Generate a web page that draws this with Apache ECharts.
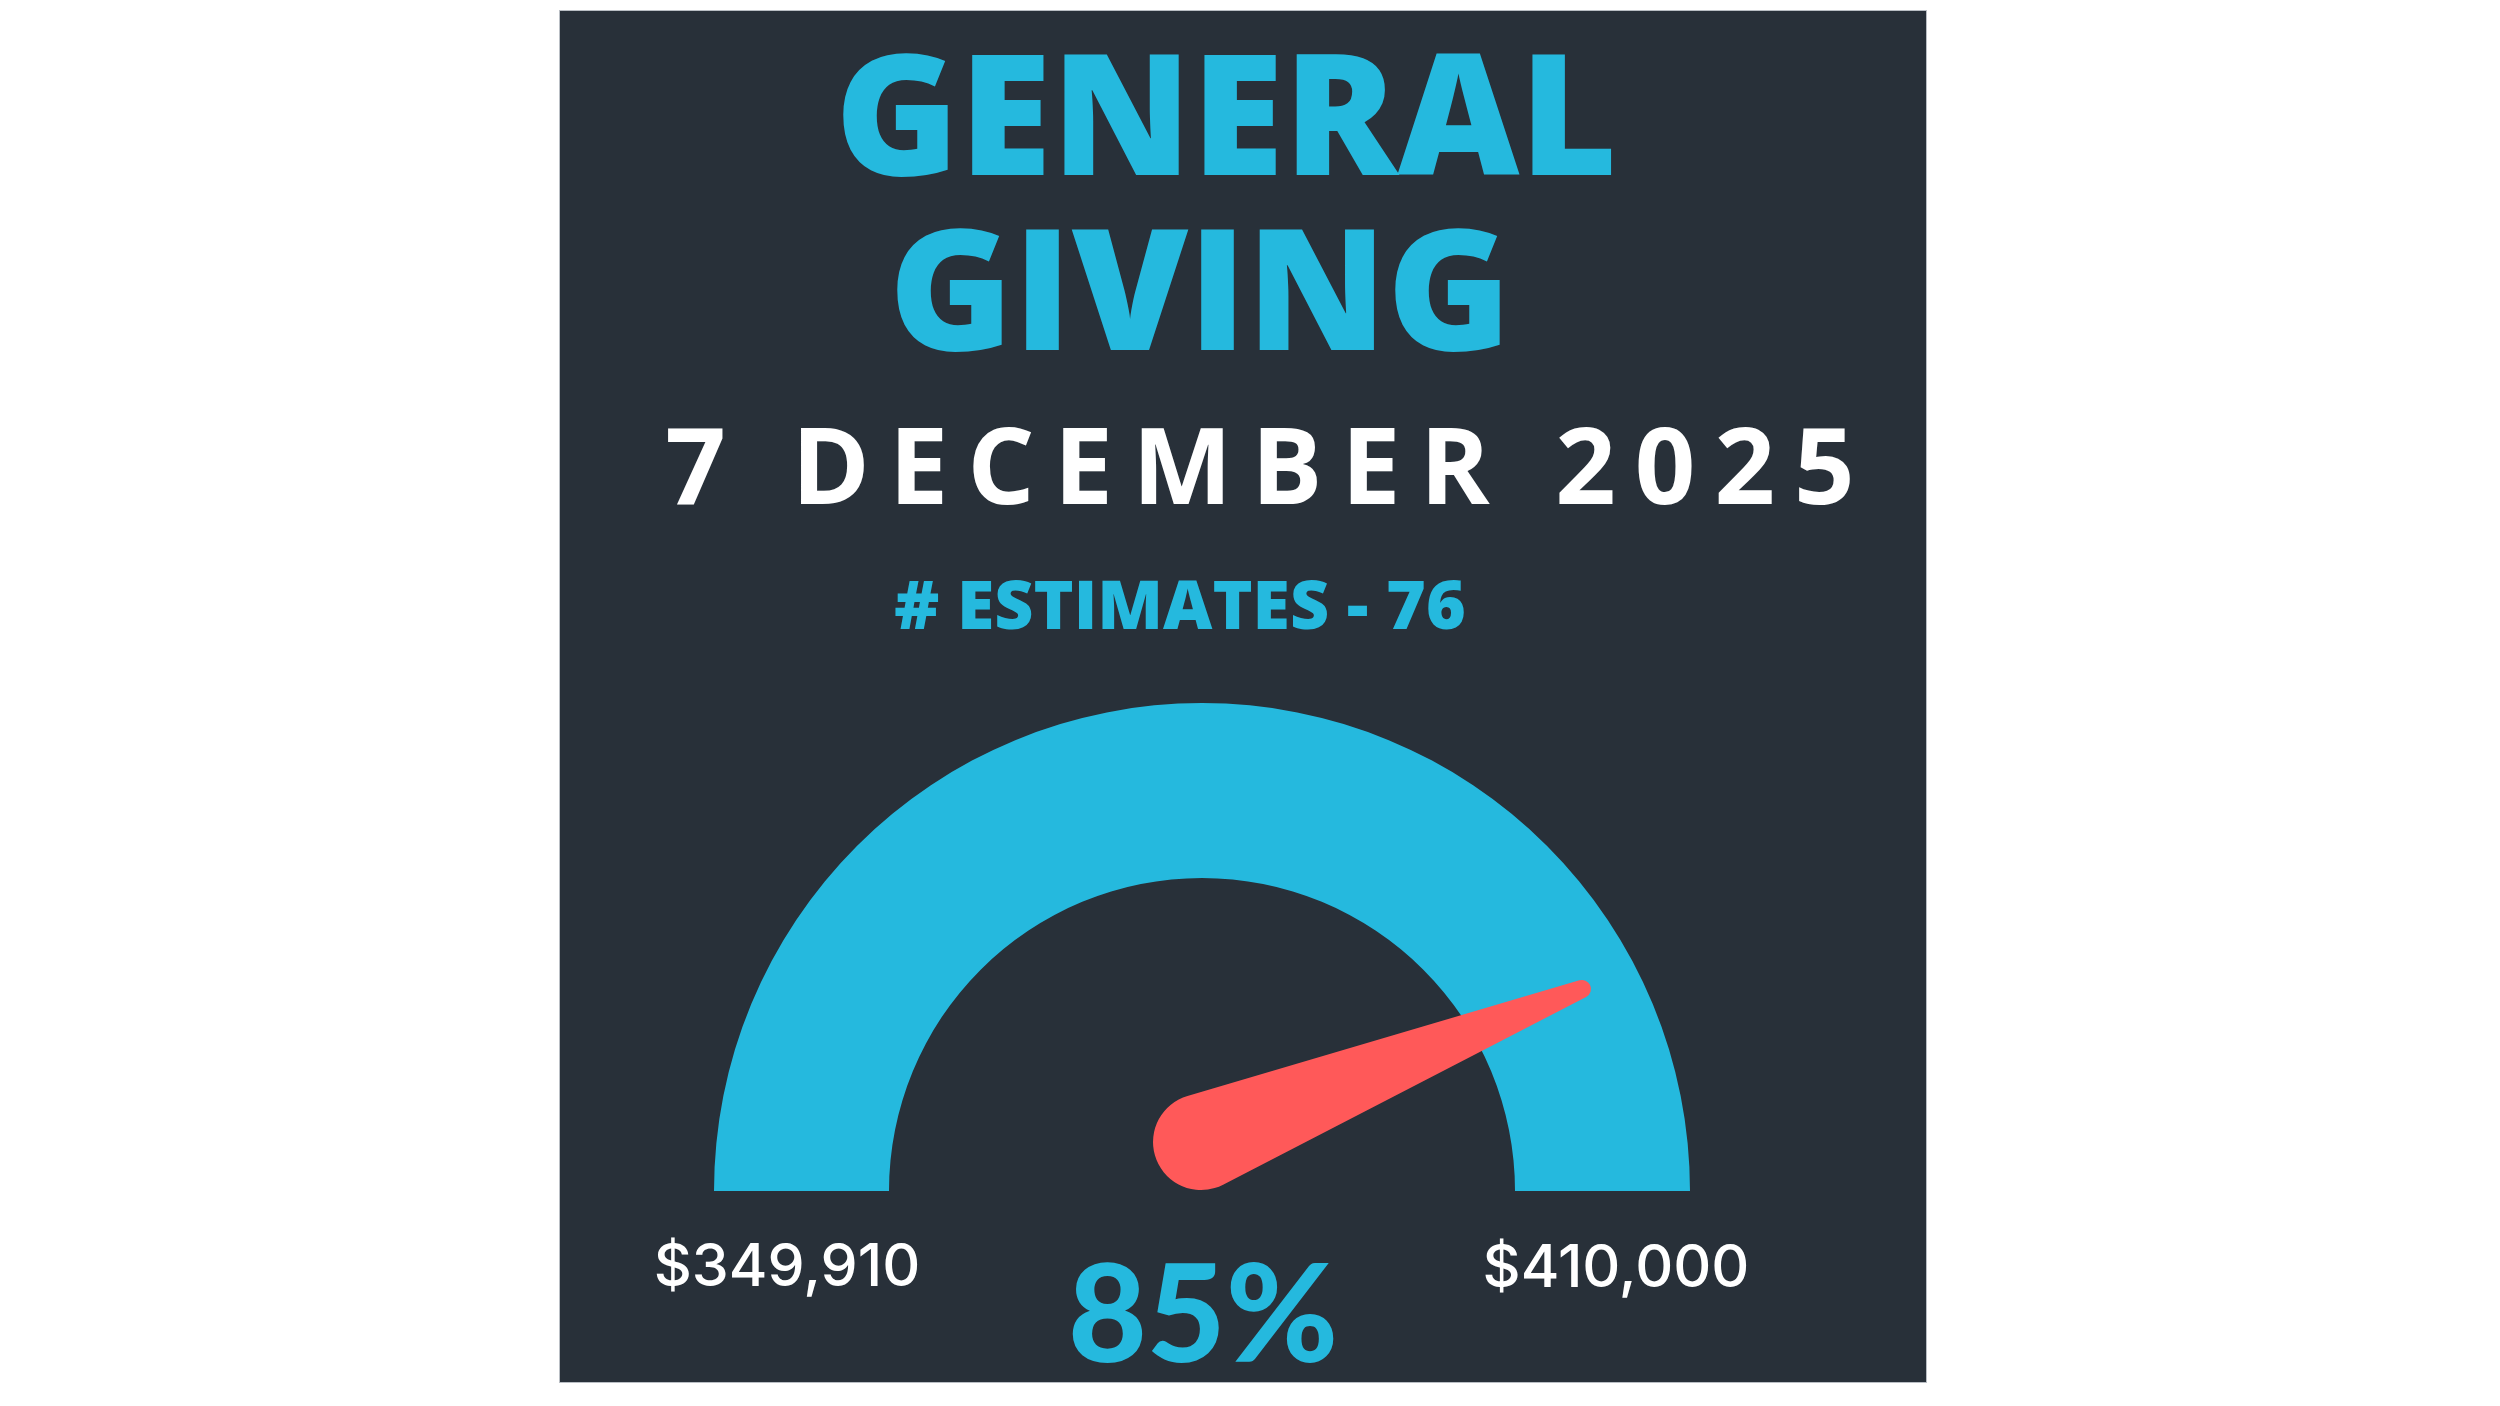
<!DOCTYPE html>
<html>
<head>
<meta charset="utf-8">
<script src="https://cdn.jsdelivr.net/npm/echarts@6/dist/echarts.min.js"></script>
<style>
html, body { margin: 0; padding: 0; background: #ffffff; width: 2500px; height: 1406px; overflow: hidden; }
#chart { position: absolute; left: 560px; top: 11px; width: 1366px; height: 1371px; box-shadow: 0 0 0 1px #b9bec4; }
</style>
</head>
<body>
<div id="chart"></div>
<script>
// ---- data ----
const headingLines = ['GENERAL', 'GIVING'];
const dateLabel = ['7 DECEMBER 2025'];
const estimateLabel = ['# ESTIMATES - 76'];
const amountRaised = [349910];
const givingGoal = [410000];
const gaugeRange = [0, 410000];

// ---- styling ----
const CYAN = '#25B9DE';
const RED = '#FF5959';
const BG = '#283039';

function money(v) { return '$' + v.toLocaleString('en-US'); }
function spaced(str) {
  const chars = Array.from(str);
  return chars.map((c, i) => '{' + (i < chars.length - 1 ? 's' : 'e') + '|' + c + '}').join('');
}
const dateFont = { fontFamily: 'Open Sans', fontWeight: 700, fontSize: 106, color: '#ffffff' };
const moneyFont = { fontFamily: 'Inter', fontWeight: 500, fontSize: 59, color: '#ffffff' };

const needlePath = 'path://M 3.69 -21.71 L -3.2 -430.35 A 9 9 0 0 0 -21.07 -431.75 L -91.58 -29.18 A 48 48 0 1 0 3.69 -21.71 Z';

const chart = echarts.init(document.getElementById('chart'), null, { renderer: 'canvas' });
chart.setOption({
  backgroundColor: BG,
  animation: false,
  title: [
    { text: headingLines[0], left: 666, top: 116, padding: 0, textAlign: 'center', textVerticalAlign: 'middle',
      textStyle: { fontFamily: 'Open Sans', fontWeight: 800, fontSize: 168, color: CYAN } },
    { text: headingLines[1], left: 640, top: 291, padding: 0, textAlign: 'center', textVerticalAlign: 'middle',
      textStyle: { fontFamily: 'Open Sans', fontWeight: 800, fontSize: 168, color: CYAN } },
    { text: spaced(dateLabel[0]), left: 700, top: 463, padding: 0, textAlign: 'center', textVerticalAlign: 'middle',
      textStyle: Object.assign({}, dateFont, {
        rich: {
          s: Object.assign({}, dateFont, { padding: [0, 19, 0, 0] }),
          e: Object.assign({}, dateFont)
        }
      }) },
    { text: estimateLabel[0], left: 620, top: 599, padding: 0, textAlign: 'center', textVerticalAlign: 'middle',
      textStyle: { fontFamily: 'Open Sans', fontWeight: 800, fontSize: 68, color: CYAN } },
    { text: money(amountRaised[0]), left: 227, top: 1257, padding: 0, textAlign: 'center', textVerticalAlign: 'middle',
      textStyle: moneyFont },
    { text: money(givingGoal[0]), left: 1056, top: 1258, padding: 0, textAlign: 'center', textVerticalAlign: 'middle',
      textStyle: moneyFont }
  ],
  series: [{
    type: 'gauge',
    center: [642, 1180],
    radius: 488,
    startAngle: 180,
    endAngle: 0,
    min: gaugeRange[0],
    max: gaugeRange[1],
    axisLine: { lineStyle: { width: 175, color: [[1, CYAN]] } },
    progress: { show: false },
    splitLine: { show: false },
    axisTick: { show: false },
    axisLabel: { show: false },
    anchor: { show: false },
    pointer: { icon: needlePath, width: 96, length: 466.3, offsetCenter: [-44.3, 27.1], itemStyle: { color: RED } },
    title: { show: false },
    detail: {
      show: true,
      offsetCenter: [1, 127],
      valueAnimation: false,
      formatter: function (v) { return Math.round(v / givingGoal[0] * 100) + '%'; },
      fontFamily: 'Lato', fontWeight: 900, fontSize: 136, color: CYAN
    },
    data: [{ value: amountRaised[0] }]
  }]
});
</script>
</body>
</html>
